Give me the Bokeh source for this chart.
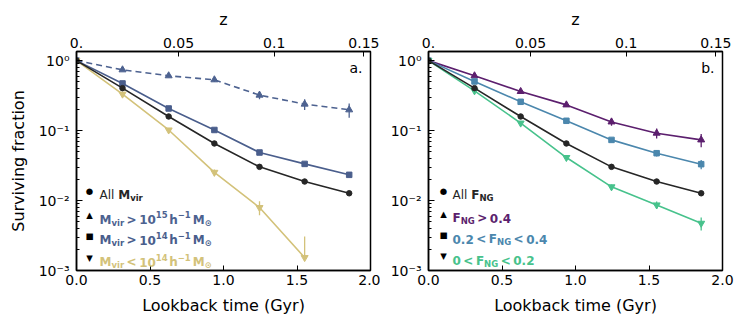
import math
from bokeh.plotting import figure
from bokeh.models import (FixedTicker, LinearAxis, CustomJSTickFormatter,
                          PrintfTickFormatter, Label, ColumnDataSource, Range1d)
from bokeh.layouts import row
from bokeh.embed import file_html
from bokeh.resources import INLINE

# ---------------- data ----------------
lookback_gyr = [0.0, 0.313, 0.627, 0.938, 1.245, 1.552, 1.855]

all_frac = [1.0, 0.404, 0.159, 0.0654, 0.0303, 0.0187, 0.0127]
all_err = [0.0, 0.006, 0.004, 0.002, 0.0012, 0.0009, 0.0009]

mvir15_frac = [1.0, 0.739, 0.607, 0.532, 0.321, 0.239, 0.198]
mvir15_err = [0.0, 0.03, 0.03, 0.035, 0.04, 0.042, 0.045]

mvir14_frac = [1.0, 0.472, 0.207, 0.102, 0.0486, 0.0334, 0.0233]
mvir14_err = [0.0, 0.01, 0.006, 0.003, 0.002, 0.0018, 0.0018]

mlow_x = [0.0, 0.313, 0.627, 0.938, 1.245, 1.552]
mlow_frac = [1.0, 0.332, 0.102, 0.0253, 0.00794, 0.00153]
mlow_err = [0.0, 0.008, 0.004, 0.0025, 0.0018, 0.00153]

fng_hi_frac = [1.0, 0.607, 0.362, 0.233, 0.133, 0.0918, 0.0736]
fng_hi_err = [0.0, 0.02, 0.015, 0.012, 0.016, 0.015, 0.016]

fng_mid_frac = [1.0, 0.504, 0.258, 0.138, 0.0736, 0.0475, 0.0331]
fng_mid_err = [0.0, 0.015, 0.01, 0.006, 0.005, 0.005, 0.005]

fng_low_frac = [1.0, 0.37, 0.128, 0.0412, 0.0157, 0.00865, 0.00473]
fng_low_err = [0.0, 0.008, 0.004, 0.0015, 0.0012, 0.001, 0.001]

x_ticks = [0.0, 0.5, 1.0, 1.5, 2.0]
z_tick_positions = [0.0, 0.694, 1.345, 1.955]
z_tick_labels = ["0.", "0.05", "0.1", "0.15"]
y_major_ticks = [1e-3, 1e-2, 1e-1, 1.0]

# ---------------- styles ----------------
FONT = "DejaVu Sans"
C_BLACK = "#262626"
C_M15 = "#4d6290"
C_M14 = "#4a5e8c"
C_MLOW = "#d3c27a"
C_HI = "#5c1f6e"
C_MID = "#4b87ad"
C_LOW = "#47c28c"

FRAME_W, FRAME_H = 294, 219
X0, X1 = 0.0, 2.0
Y0, Y1 = 1e-3, 1.35
FRAME_TOP = 52


def xd(px):  # px from frame left -> data
    return X0 + px / FRAME_W * (X1 - X0)


def yd(py_abs):  # absolute page y -> data
    l0, l1 = math.log10(Y0), math.log10(Y1)
    return 10 ** (l1 - (py_abs - FRAME_TOP) / FRAME_H * (l1 - l0))


REG = {'A': .684, 'l': .278, ' ': .318, 'M': .863, '.': .318, '<': .838,
       '>': .838, 'F': .575, 'N': .748, 'G': .776, 'h': .634, 'v': .592,
       'i': .278, 'r': .411, '−': .838, '⊙': .838}
BOLD = {'A': .774, 'l': .343, ' ': .348, 'M': .995, '.': .380, '<': .838,
        '>': .838, 'F': .683, 'N': .837, 'G': .821, 'h': .712, 'v': .652,
        'i': .343, 'r': .493, '−': .838, '⊙': .838}


def width(s, size, bold):
    t = BOLD if bold else REG
    return sum(t.get(c, 0.696 if bold else 0.636) for c in s) * size


LEG_SIZE = 12.0
SUB_SIZE = 8.5


def rich(p, x, y, pieces, color):
    off = 0.0
    for txt, kind in pieces:
        if kind == "gap":
            off += txt
            continue
        if kind == "n":
            size, style, dy = LEG_SIZE, "normal", 0
        elif kind == "b":
            size, style, dy = LEG_SIZE, "bold", 0
        elif kind == "sub":
            size, style, dy = SUB_SIZE, "bold", -3
        else:
            size, style, dy = SUB_SIZE, "bold", 5
        p.add_layout(Label(x=x, y=y, x_offset=off, y_offset=dy, text=txt,
                           text_font=FONT, text_font_size=f"{size}px",
                           text_font_style=style, text_color=color,
                           text_baseline="alphabetic", text_align="left"))
        off += width(txt, size, style == "bold")


def draw(p, x, y, err, color, marker, size, dash="solid"):
    lo = [v - e if v - e > 0 and e < v else v for v, e in zip(y, err)]
    hi = [v + e for v, e in zip(y, err)]
    src = ColumnDataSource(dict(x=x, y=y, lo=lo, hi=hi))
    p.line("x", "y", source=src, line_color=color, line_width=1.6, line_dash=dash)
    p.segment(x0="x", y0="lo", x1="x", y1="hi", source=src, line_color=color, line_width=1.3)
    p.scatter("x", "y", source=src, marker=marker, size=size, fill_color=color,
              line_color=color)


log_fmt = CustomJSTickFormatter(code="""
const e = Math.round(Math.log10(tick));
const sup = {"0":"\u2070","1":"\u00b9","2":"\u00b2","3":"\u00b3","-":"\u207b"};
return "10" + String(e).split("").map(c => sup[c]).join("");
""")


def make_fig(border_left, border_right, ylabel, tag):
    p = figure(frame_width=FRAME_W, frame_height=FRAME_H,
               x_range=Range1d(X0, X1), y_range=Range1d(Y0, Y1),
               y_axis_type="log", output_backend="svg", toolbar_location=None,
               min_border_left=border_left, min_border_right=border_right,
               min_border_top=51, min_border_bottom=44)
    p.grid.visible = False
    p.outline_line_color = "black"
    p.outline_line_width = 1.5
    p.background_fill_color = "white"
    p.border_fill_color = "white"

    xa = p.xaxis[0]
    xa.ticker = FixedTicker(ticks=x_ticks)
    xa.formatter = PrintfTickFormatter(format="%.1f")
    xa.major_tick_in, xa.major_tick_out = 5, 0
    xa.minor_tick_in, xa.minor_tick_out = 0, 0
    xa.axis_line_width = 1.5
    xa.axis_line_color = "black"
    xa.major_label_text_font = FONT
    xa.major_label_text_font_size = "14px"
    xa.major_label_text_color = "black"
    xa.major_label_standoff = 4
    xa.axis_label = "Lookback time (Gyr)"
    xa.axis_label_text_font = FONT
    xa.axis_label_text_font_size = "16px"
    xa.axis_label_text_font_style = "normal"
    xa.axis_label_text_color = "black"
    xa.axis_label_standoff = 8

    ya = p.yaxis[0]
    ya.ticker = FixedTicker(ticks=y_major_ticks,
                            minor_ticks=[k * 10 ** e for e in (-3, -2, -1) for k in range(2, 10)])
    ya.formatter = log_fmt
    ya.major_tick_in, ya.major_tick_out = 6, 0
    ya.minor_tick_in, ya.minor_tick_out = 3, 0
    ya.axis_line_width = 1.5
    ya.axis_line_color = "black"
    ya.major_label_text_font = FONT
    ya.major_label_text_font_size = "14px"
    ya.major_label_text_color = "black"
    ya.major_label_standoff = 7
    if ylabel:
        ya.axis_label = ylabel
        ya.axis_label_text_font = FONT
        ya.axis_label_text_font_size = "16px"
        ya.axis_label_text_font_style = "normal"
        ya.axis_label_text_color = "black"
        ya.axis_label_standoff = 8

    top = LinearAxis(ticker=FixedTicker(ticks=z_tick_positions),
                     formatter=CustomJSTickFormatter(args=dict(labels=z_tick_labels),
                                                     code="return labels[index];"),
                     axis_label="z")
    top.major_tick_in, top.major_tick_out = 5, 0
    top.minor_tick_in, top.minor_tick_out = 0, 0
    top.axis_line_width = 1.5
    top.axis_line_color = "black"
    top.major_label_text_font = FONT
    top.major_label_text_font_size = "14px"
    top.major_label_text_color = "black"
    top.major_label_standoff = 4
    top.axis_label_text_font = FONT
    top.axis_label_text_font_size = "16px"
    top.axis_label_text_font_style = "normal"
    top.axis_label_text_color = "black"
    top.axis_label_standoff = 6
    p.add_layout(top, "above")

    p.add_layout(Label(x=xd(286), y=yd(68), text=tag, text_font=FONT,
                       text_font_size="14px", text_color="black",
                       text_align="right", text_baseline="alphabetic"))
    return p


# ---------------- left panel ----------------
p1 = make_fig(76, 10, "Surviving fraction", "a.")
draw(p1, lookback_gyr, mvir15_frac, mvir15_err, C_M15, "triangle", 7, dash="6 4")
draw(p1, lookback_gyr, mvir14_frac, mvir14_err, C_M14, "square", 5.5)
draw(p1, mlow_x, mlow_frac, mlow_err, C_MLOW, "inverted_triangle", 7)
draw(p1, lookback_gyr, all_frac, all_err, C_BLACK, "circle", 5.5)

GAP = 2.5
left_rows = [
    ("●", [("All ", "n"), ("M", "b"), ("vir", "sub")], C_BLACK, 191),
    ("▲", [("M", "b"), ("vir", "sub"), (GAP, "gap"), (">", "b"), (GAP, "gap"),
           ("10", "b"), ("15", "sup"), (1.5, "gap"), ("h", "b"), ("−1", "sup"),
           (2, "gap"), ("M", "b"), ("⊙", "sub")], C_M15, 215.5),
    ("■", [("M", "b"), ("vir", "sub"), (GAP, "gap"), (">", "b"), (GAP, "gap"),
           ("10", "b"), ("14", "sup"), (1.5, "gap"), ("h", "b"), ("−1", "sup"),
           (2, "gap"), ("M", "b"), ("⊙", "sub")], C_M14, 236),
    ("▼", [("M", "b"), ("vir", "sub"), (GAP, "gap"), ("<", "b"), (GAP, "gap"),
           ("10", "b"), ("14", "sup"), (1.5, "gap"), ("h", "b"), ("−1", "sup"),
           (2, "gap"), ("M", "b"), ("⊙", "sub")], C_MLOW, 258),
]
for sym, pieces, col, yc in left_rows:
    p1.add_layout(Label(x=xd(13), y=yd(yc), text=sym, text_font=FONT,
                        text_font_size="8.5px", text_color="black",
                        text_align="center", text_baseline="middle"))
    rich(p1, xd(23), yd(yc + 4.5), pieces, col)

# ---------------- right panel ----------------
p2 = make_fig(48, 16, None, "b.")
draw(p2, lookback_gyr, fng_hi_frac, fng_hi_err, C_HI, "triangle", 7)
draw(p2, lookback_gyr, fng_mid_frac, fng_mid_err, C_MID, "square", 5.5)
draw(p2, lookback_gyr, fng_low_frac, fng_low_err, C_LOW, "inverted_triangle", 7)
draw(p2, lookback_gyr, all_frac, all_err, C_BLACK, "circle", 5.5)

right_rows = [
    ("●", [("All ", "n"), ("F", "b"), ("NG", "sub")], C_BLACK, 191),
    ("▲", [("F", "b"), ("NG", "sub"), (GAP, "gap"), (">", "b"), (GAP, "gap"),
           ("0.4", "b")], C_HI, 214),
    ("■", [("0.2", "b"), (GAP, "gap"), ("<", "b"), (GAP, "gap"), ("F", "b"),
           ("NG", "sub"), (GAP, "gap"), ("<", "b"), (GAP, "gap"), ("0.4", "b")], C_MID, 235),
    ("▼", [("0", "b"), (GAP, "gap"), ("<", "b"), (GAP, "gap"), ("F", "b"),
           ("NG", "sub"), (GAP, "gap"), ("<", "b"), (GAP, "gap"), ("0.2", "b")], C_LOW, 256.5),
]
for sym, pieces, col, yc in right_rows:
    p2.add_layout(Label(x=xd(15), y=yd(yc), text=sym, text_font=FONT,
                        text_font_size="8.5px", text_color="black",
                        text_align="center", text_baseline="middle"))
    rich(p2, xd(24), yd(yc + 4.5), pieces, col)

layout = row(p1, p2)
open("out.html", "w").write(file_html(layout, INLINE))
